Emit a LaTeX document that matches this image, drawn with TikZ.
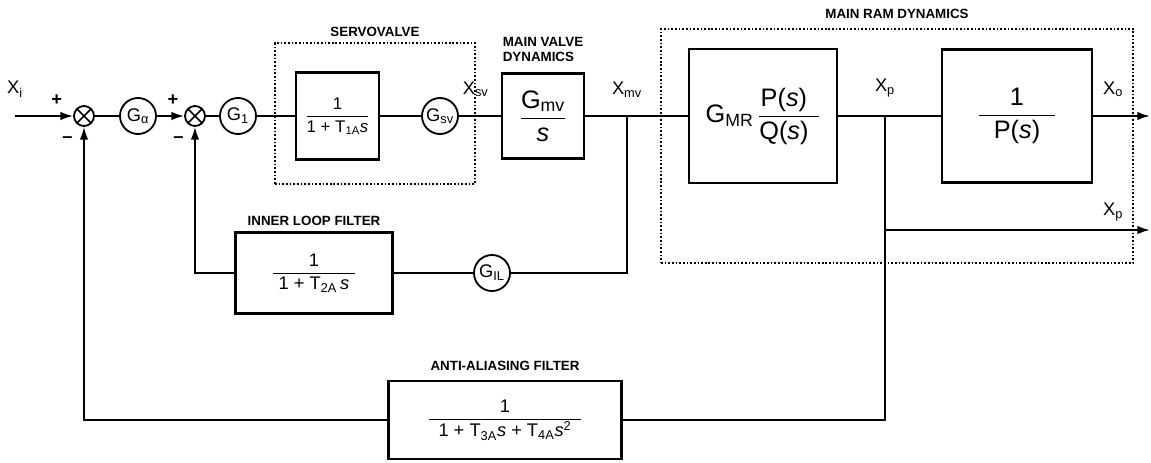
\documentclass[tikz,border=0pt]{standalone}
\usepackage{amsmath}
\usepackage{fontspec}
\setmainfont{Liberation Sans}
\usetikzlibrary{positioning, arrows.meta}

\newcommand{\blkfrac}[3][0.3em]{$\dfrac{\text{#2}}{\text{\hspace{#1}#3\hspace{#1}}}$}

\begin{document}
\begin{tikzpicture}[x=0.025cm, y=-0.025cm, line width=1.3pt,
    blk/.style={draw, line width=1.7pt, inner sep=2pt, font=\fontsize{12}{14}\selectfont},
    bigblk/.style={blk, font=\fontsize{18}{21}\selectfont},
    gain/.style={draw, circle, minimum size=0.9cm, inner sep=0pt, font=\fontsize{13}{15}\selectfont},
    sumjn/.style={draw, circle, minimum size=0.5cm, inner sep=0pt,
      path picture={\draw[line width=1.1pt] (path picture bounding box.north west) -- (path picture bounding box.south east)
        (path picture bounding box.north east) -- (path picture bounding box.south west);}},
    grp/.style={draw, dash pattern=on 1.2pt off 1.4pt, line width=1pt, inner sep=0pt},
    grplabel/.style={font=\fontsize{9.5}{11}\selectfont\bfseries, inner sep=1pt},
    sig/.style={font=\fontsize{13}{15}\selectfont, inner sep=0pt},
    sgn/.style={font=\fontsize{13}{15}\selectfont\bfseries, inner sep=0pt},
    arr/.style={-{Latex[length=9pt,width=6pt]}}]
  \useasboundingbox (0,0) rectangle (1151,462);

  % forward path
  \coordinate (xin) at (15,116);
  \node[sumjn] (sum1) at (84,116) {};
  \node[gain] (galpha) at (138,116) {G\textsubscript{α}};
  \node[sumjn] (sum2) at (195,116) {};
  \node[gain] (g1) at (238,116) {G\textsubscript{1}};
  \node[blk, minimum width=2.075cm, minimum height=2.175cm] (servo) at (337.5,116)
    {\blkfrac[0em]{1}{1 + T\textsubscript{1A}\textit{s}}};
  \node[gain] (gsv) at (440,116) {G\textsubscript{sv}};
  \node[bigblk, minimum width=2.05cm, minimum height=2.125cm] (mvalve) at (543,116)
    {\blkfrac[0em]{G\textsubscript{mv}}{\textit{s}}};
  \coordinate (mvbr) at (627,116);
  \node[bigblk, minimum width=3.7cm, minimum height=3.35cm] (mram) at (763,116)
    {$\text{G\textsubscript{MR}}\,\dfrac{\text{P(\textit{s})\hspace{0.4em}}}{\text{Q(\textit{s})\hspace{0.4em}}}$};
  \coordinate (pbr) at (885,116);
  \node[bigblk, minimum width=3.75cm, minimum height=3.325cm] (plant) at (1017,116)
    {\blkfrac[0.6em]{1}{P(\textit{s})}};
  \coordinate (xo) at (1150,116);
  \coordinate (pbr2) at (885,230);
  \coordinate (xp2) at (1150,230);

  % feedback blocks
  \node[blk, font=\fontsize{13}{15}\selectfont, minimum width=3.925cm, minimum height=2.025cm] (ilf) at (314,273)
    {\blkfrac{1}{1 + T\textsubscript{2A}\,\textit{s}}};
  \node[gain] (gil) at (492,273) {G\textsubscript{IL}};
  \node[blk, font=\fontsize{13}{15}\selectfont, minimum width=5.825cm, minimum height=1.95cm] (aaf) at (505,420)
    {\blkfrac[0.5em]{1}{1 + T\textsubscript{3A}\textit{s} + T\textsubscript{4A}\textit{s}\textsuperscript{2}}};

  % groups
  \node[grp, minimum width=5cm, minimum height=3.525cm] (servogrp) at (375,113.5) {};
  \node[grp, minimum width=11.8cm, minimum height=5.85cm] (ramgrp) at (897,146) {};
  \coordinate (svout) at (servogrp.east |- gsv);

  % labels
  \node[grplabel, above=0.09cm of servogrp] (servolbl) {SERVOVALVE};
  \node[grplabel, above=0.19cm of ramgrp] (ramlbl) {MAIN RAM DYNAMICS};
  \node[grplabel, align=left, above=0.2cm of mvalve] (mvlbl) {MAIN VALVE\\DYNAMICS};
  \node[grplabel, above=0.08cm of ilf] (ilflbl) {INNER LOOP FILTER};
  \node[grplabel, above=0.17cm of aaf] (aaflbl) {ANTI-ALIASING FILTER};
  \node[sig, above=0.45cm of xin] (xilbl) {X\textsubscript{i}};
  \node[sig, above=0.45cm of svout] (xsvlbl) {X\textsubscript{sv}};
  \node[sig, above=0.45cm of mvbr] (xmvlbl) {X\textsubscript{mv}};
  \node[sig, above=0.45cm of pbr] (xplbl) {X\textsubscript{p}};
  \node[sig, above left=0.45cm and 0.65cm of xo] (xolbl) {X\textsubscript{o}};
  \node[sig, above left=0.2cm and 0.65cm of xp2] (xp2lbl) {X\textsubscript{p}};
  \node[sgn, above left=0.04cm and 0.33cm of sum1] (plus1) {+};
  \node[sgn, below left=0.3cm and 0.07cm of sum1] (minus1) {–};
  \node[sgn, above left=0.04cm and 0.2cm of sum2] (plus2) {+};
  \node[sgn, below left=0.3cm and 0.07cm of sum2] (minus2) {–};

  % connectors
  \draw[arr] (xin) -- (sum1);
  \draw (sum1) -- (galpha);
  \draw[arr] (galpha) -- (sum2);
  \draw (sum2) -- (g1);
  \draw (g1) -- (servo);
  \draw (servo) -- (gsv);
  \draw (gsv) -- (mvalve);
  \draw (mvalve) -- (mram);
  \draw (mram) -- (plant);
  \draw[arr] (plant) -- (xo);
  \draw[arr] (pbr2) -- (xp2);
  % inner loop
  \draw (mvbr) |- (gil);
  \draw (gil) -- (ilf);
  \draw[arr] (ilf) -| (sum2);
  % outer loop
  \draw (pbr) |- (aaf);
  \draw[arr] (aaf) -| (sum1);
\end{tikzpicture}
\end{document}
